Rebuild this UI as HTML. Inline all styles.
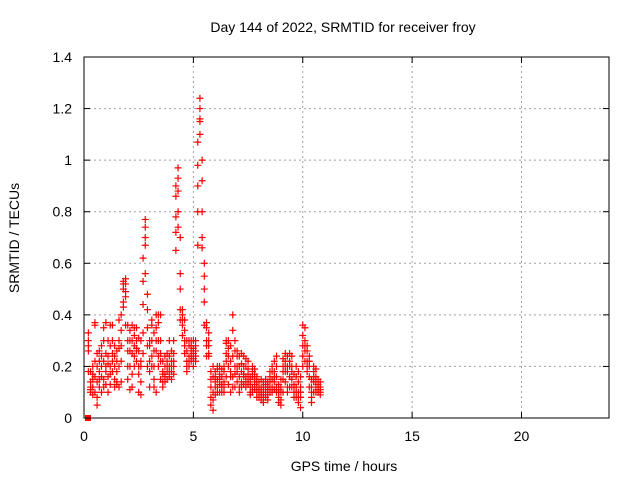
<!DOCTYPE html>
<html><head><meta charset="utf-8"><style>
body{margin:0;background:#fff;}
svg text{font-family:"Liberation Sans",sans-serif;font-size:14px;fill:#000;}
</style></head><body>
<svg id="c" width="640" height="480" xmlns="http://www.w3.org/2000/svg">
<text x="343" y="32" text-anchor="middle">Day 144 of 2022, SRMTID for receiver froy</text>
<text x="344" y="471" text-anchor="middle">GPS time / hours</text>
<text transform="translate(19,238) rotate(-90)" text-anchor="middle">SRMTID / TECUs</text>
<g id="grid"></g><g id="pts"></g><g id="axes"></g>
</svg>
<script>
const xTicks=[0,5,10,15,20];
const yTicks=[0,0.2,0.4,0.6,0.8,1,1.2,1.4];
const yTickLabels=["0","0.2","0.4","0.6","0.8","1","1.2","1.4"];
const times=[0.2,0.3,0.4,0.5,0.6,0.7,0.8,0.9,1.0,1.1,1.2,1.3,1.4,1.5,1.6,1.7,1.8,1.9,2.0,2.1,2.2,2.3,2.4,2.5,2.6,2.7,2.8,2.9,3.0,3.1,3.2,3.3,3.4,3.5,3.6,3.7,3.8,3.9,4.0,4.1,4.2,4.3,4.4,4.5,4.6,4.7,4.8,4.9,5.0,5.1,5.2,5.3,5.4,5.5,5.6,5.7,5.8,5.9,6.0,6.1,6.2,6.3,6.4,6.5,6.6,6.7,6.8,6.9,7.0,7.1,7.2,7.3,7.4,7.5,7.6,7.7,7.8,7.9,8.0,8.1,8.2,8.3,8.4,8.5,8.6,8.7,8.8,8.9,9.0,9.1,9.2,9.3,9.4,9.5,9.6,9.7,9.8,9.9,10.0,10.1,10.2,10.3,10.4,10.5,10.6,10.7,10.8];
const values=[
[0.26,0.3,0.33,0.28,0.18],[0.12,0.18,0.1,0.14,0.11],[0.12,0.15,0.09,0.17,0.2],[0.16,0.1,0.22,0.37,0.36],[0.08,0.14,0.2,0.25,0.05],
[0.18,0.22,0.12,0.15,0.26],[0.2,0.16,0.24,0.1,0.28],[0.15,0.22,0.3,0.35,0.12],[0.2,0.25,0.18,0.13,0.37],[0.1,0.24,0.3,0.16,0.21],
[0.13,0.2,0.28,0.36,0.17],[0.22,0.3,0.36,0.18,0.25],[0.2,0.28,0.15,0.24,0.12],[0.18,0.14,0.22,0.26,0.13],[0.12,0.2,0.27,0.38,0.3],
[0.14,0.22,0.28,0.34,0.4],[0.45,0.5,0.53,0.52,0.43],[0.49,0.54,0.52,0.47,0.36],[0.2,0.26,0.15,0.3,0.36],[0.3,0.34,0.26,0.2,0.11],
[0.12,0.17,0.25,0.3,0.36],[0.2,0.28,0.32,0.24,0.35],[0.22,0.27,0.3,0.35,0.26],[0.17,0.1,0.2,0.31,0.26],[0.09,0.14,0.22,0.3,0.2],
[0.25,0.33,0.44,0.53,0.62],[0.77,0.74,0.7,0.67,0.56],[0.48,0.42,0.35,0.28,0.2],[0.12,0.18,0.22,0.28,0.3],[0.24,0.3,0.36,0.38,0.2],
[0.15,0.2,0.26,0.33,0.12],[0.3,0.35,0.4,0.26,0.1],[0.2,0.24,0.37,0.4,0.3],[0.15,0.22,0.3,0.4,0.25],[0.12,0.18,0.22,0.17,0.14],
[0.14,0.2,0.17,0.24,0.16],[0.15,0.22,0.18,0.2,0.25],[0.16,0.2,0.24,0.3,0.18],[0.18,0.22,0.26,0.2,0.15],[0.2,0.25,0.3,0.22,0.17],
[0.65,0.72,0.78,0.86,0.9],[0.93,0.97,0.88,0.8,0.74],[0.7,0.56,0.5,0.42,0.38],[0.32,0.38,0.4,0.42,0.36],[0.3,0.34,0.38,0.28,0.25],
[0.26,0.3,0.22,0.18,0.2],[0.22,0.28,0.3,0.2,0.24],[0.24,0.28,0.3,0.22,0.26],[0.2,0.25,0.3,0.27,0.23],[0.22,0.26,0.28,0.3,0.24],
[0.67,0.8,0.9,1.07,0.98],[1.15,1.2,1.24,1.16,1.1],[1.0,0.92,0.8,0.7,0.66],[0.6,0.55,0.5,0.45,0.36],[0.28,0.35,0.37,0.3,0.24],
[0.25,0.3,0.33,0.24,0.28],[0.12,0.18,0.15,0.08,0.05],[0.03,0.1,0.16,0.2,0.07],[0.12,0.18,0.14,0.09,0.16],[0.1,0.15,0.19,0.12,0.2],
[0.13,0.2,0.17,0.1,0.15],[0.1,0.16,0.12,0.19,0.13],[0.1,0.14,0.18,0.12,0.2],[0.25,0.29,0.22,0.16,0.3],[0.2,0.24,0.3,0.27,0.13],
[0.18,0.22,0.1,0.28,0.16],[0.24,0.4,0.34,0.16,0.12],[0.12,0.2,0.26,0.3,0.17],[0.18,0.24,0.14,0.2,0.26],[0.12,0.16,0.2,0.24,0.1],
[0.14,0.18,0.21,0.25,0.12],[0.16,0.2,0.17,0.13,0.24],[0.12,0.16,0.2,0.23,0.14],[0.15,0.19,0.13,0.22,0.17],[0.1,0.14,0.12,0.09,0.16],
[0.12,0.16,0.2,0.18,0.1],[0.15,0.19,0.13,0.17,0.11],[0.1,0.14,0.12,0.16,0.08],[0.08,0.11,0.14,0.1,0.12],[0.07,0.1,0.12,0.15,0.09],
[0.08,0.12,0.1,0.14,0.06],[0.1,0.13,0.15,0.08,0.12],[0.09,0.12,0.14,0.07,0.11],[0.1,0.16,0.14,0.12,0.18],[0.12,0.15,0.18,0.2,0.1],
[0.14,0.18,0.22,0.11,0.16],[0.12,0.16,0.2,0.24,0.1],[0.08,0.1,0.13,0.06,0.11],[0.07,0.12,0.1,0.05,0.15],[0.1,0.15,0.2,0.23,0.18],
[0.18,0.22,0.25,0.2,0.14],[0.12,0.18,0.24,0.2,0.1],[0.12,0.16,0.2,0.25,0.22],[0.15,0.2,0.24,0.18,0.12],[0.1,0.13,0.08,0.17,0.12],
[0.08,0.12,0.16,0.2,0.1],[0.06,0.1,0.14,0.18,0.08],[0.04,0.08,0.12,0.16,0.1],[0.2,0.24,0.28,0.32,0.36],[0.3,0.35,0.26,0.22,0.28],
[0.18,0.22,0.26,0.28,0.2],[0.2,0.24,0.22,0.16,0.12],[0.06,0.1,0.08,0.12,0.15],[0.1,0.14,0.18,0.2,0.16],[0.12,0.16,0.19,0.14,0.1],
[0.1,0.12,0.15,0.11,0.13],[0.09,0.12,0.1,0.14,0.11]
];
const X0=84,X1=609,Y0=418,Y1=57,XMAX=24,YMAX=1.4;
const xs=v=>X0+(X1-X0)*v/XMAX, ys=v=>Y0-(Y0-Y1)*v/YMAX;
const NS="http://www.w3.org/2000/svg";
function mk(t,a,p){const e=document.createElementNS(NS,t);for(const k in a)e.setAttribute(k,a[k]);p.appendChild(e);return e;}
const grid=document.getElementById('grid'),axes=document.getElementById('axes'),pts=document.getElementById('pts');
xTicks.forEach(t=>{const x=xs(t);
 if(t>0){const g=mk('line',{x1:x,x2:x,y1:Y0,y2:Y1,stroke:'#a0a0a0','stroke-dasharray':'2,3'},grid);
 }
 mk('line',{x1:x,x2:x,y1:Y0,y2:Y0-6,stroke:'#000'},axes);mk('line',{x1:x,x2:x,y1:Y1,y2:Y1+6,stroke:'#000'},axes);
 const l=mk('text',{x:x,y:Y0+23,'text-anchor':'middle'},axes);l.textContent=t;
 });
yTicks.forEach((t,i)=>{const y=ys(t);
 if(t>0&&t<YMAX){const g=mk('line',{x1:X0,x2:X1,y1:y,y2:y,stroke:'#a0a0a0','stroke-dasharray':'2,3'},grid);
 }
 mk('line',{x1:X0,x2:X0+6,y1:y,y2:y,stroke:'#000'},axes);mk('line',{x1:X1,x2:X1-6,y1:y,y2:y,stroke:'#000'},axes);
 const l=mk('text',{x:X0-12,y:y+5,'text-anchor':'end'},axes);l.textContent=yTickLabels[i];
 });
const fr=mk('rect',{x:X0,y:Y1,width:X1-X0,height:Y0-Y1,fill:'none',stroke:'#000'},axes);

times.forEach((t,i)=>(values[i]||[]).forEach(v=>{const x=xs(t),y=ys(v);
 const p=mk('path',{d:`M${x-3.5},${y}h7M${x},${y-3.5}v7`,stroke:'#f00','stroke-width':1.2},pts);
 }));
const sq=mk('rect',{x:xs(0)+1,y:ys(0)-3,width:6,height:6,fill:'#f00'},pts);

</script>
</body></html>
